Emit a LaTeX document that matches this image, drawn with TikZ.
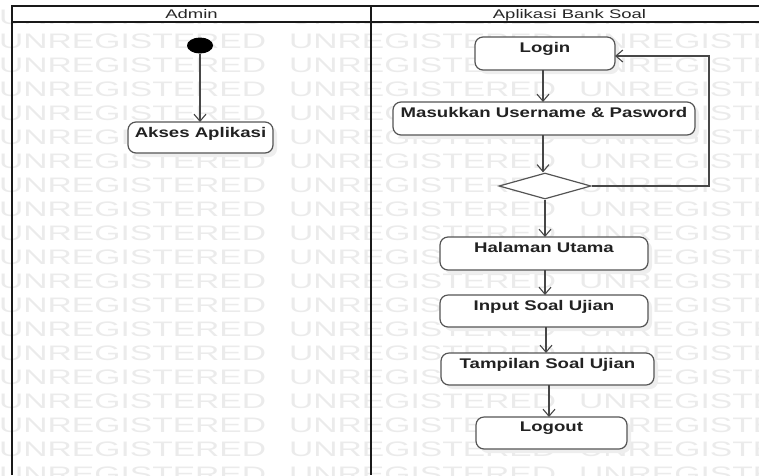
\documentclass[tikz,border=0pt]{standalone}
\usepackage{fontspec}
\setmainfont{Liberation Sans}
\usepackage{graphicx}
\usetikzlibrary{arrows.meta,shapes.geometric}
\definecolor{wm}{HTML}{EBEBEB}
\definecolor{boxline}{HTML}{555555}
\definecolor{txt}{HTML}{222222}
\definecolor{shadowc}{HTML}{EEEEEE}
\newcommand{\wbold}[1]{\scalebox{1.33}[1]{\fontsize{14}{16}\selectfont\bfseries #1}}
\newcommand{\whead}[1]{\scalebox{1.48}[1]{\fontsize{12.5}{14}\selectfont #1}}
\newcommand{\wmark}{\scalebox{1.6}[1]{\fontsize{21}{21}\selectfont UNREGISTERED}}
\tikzset{
  act/.style={draw=boxline, line width=1.2pt, rounded corners=8pt, fill=white,
    inner sep=0pt, outer sep=0pt,
    preaction={fill=shadowc, draw=none, transform canvas={xshift=4pt,yshift=-4pt}}},
  lbl/.style={anchor=north, inner sep=0pt, text=txt, yshift=-5pt},
  flowline/.style={draw=black!72, line width=1.1pt, -{Straight Barb[length=7pt,width=12pt]}},
  lane/.style={draw=black!90, line width=2pt},
  wmtext/.style={anchor=base west, inner sep=0pt, text=wm},
  headtext/.style={anchor=base, inner sep=0pt, text=black!85}
}
\begin{document}
\begin{tikzpicture}[x=1pt,y=-1pt]
\useasboundingbox (0,0) rectangle (759,475);
% watermark
\foreach \k in {-1,...,18}{
  \foreach \xx in {-1,289,579}{
    \node[wmtext] (wm-\k-\xx) at ({\xx},{48.3+24.04*\k}) {\wmark};
  }
}
% header band
\fill[white] (12,6) rectangle (759,22);
\draw[lane] (12,475) -- (12,6) -- (759,6);
\draw[lane] (12,22) -- (759,22);
\draw[lane] (371,6) -- (371,475);
\node[headtext] (h1) at (191.5,18) {\whead{Admin}};
\node[headtext] (h2) at (569.5,18) {\whead{Aplikasi Bank Soal}};

% nodes
\node[ellipse, fill=black, minimum width=26pt, minimum height=16pt, inner sep=0pt] (start) at (200,45.5) {};
\node[act, minimum width=145pt, minimum height=31pt, label={[lbl]north:\wbold{Akses Aplikasi}}] (akses) at (200.5,137.5) {};
\node[act, minimum width=140pt, minimum height=33pt, label={[lbl]north:\wbold{Login}}] (login) at (545,53.5) {};
\node[act, minimum width=302pt, minimum height=33pt, label={[lbl]north:\wbold{Masukkan Username \& Pasword}}] (masuk) at (544,118.5) {};
\node[diamond, draw=boxline, line width=1.2pt, fill=white, minimum width=92pt, minimum height=26pt, inner sep=0pt] (dec) at (545,186) {};
\node[act, minimum width=208pt, minimum height=33pt, label={[lbl]north:\wbold{Halaman Utama}}] (halaman) at (544,253.5) {};
\node[act, minimum width=208pt, minimum height=32pt, label={[lbl]north:\wbold{Input Soal Ujian}}] (input) at (544,311) {};
\node[act, minimum width=213pt, minimum height=32pt, label={[lbl]north:\wbold{Tampilan Soal Ujian}}] (tampil) at (547.5,369) {};
\node[act, minimum width=151pt, minimum height=32pt, label={[lbl]north:\wbold{Logout}}] (logout) at (551.5,433) {};

% connectors
\draw[flowline] (start) -- (start |- akses.north);
\draw[flowline] ([xshift=-2pt]login.south) -- ([xshift=-2pt]login.south |- masuk.north);
\draw[flowline] ([xshift=-1pt]masuk.south) -- ([xshift=-1pt]masuk.south |- dec.north);
\draw[flowline] (dec.south) -- (dec.south |- halaman.north);
\draw[flowline] ([xshift=1pt]halaman.south) -- ([xshift=1pt]halaman.south |- input.north);
\draw[flowline] ([xshift=2pt]input.south) -- ([xshift=2pt]input.south |- tampil.north);
\draw[flowline] ([xshift=1.5pt]tampil.south) -- ([xshift=1.5pt]tampil.south |- logout.north);
\coordinate (loopc) at (709,186);
\draw[flowline] (dec.east) -- (loopc) |- ([yshift=-2.5pt]login.east);
\end{tikzpicture}
\end{document}
